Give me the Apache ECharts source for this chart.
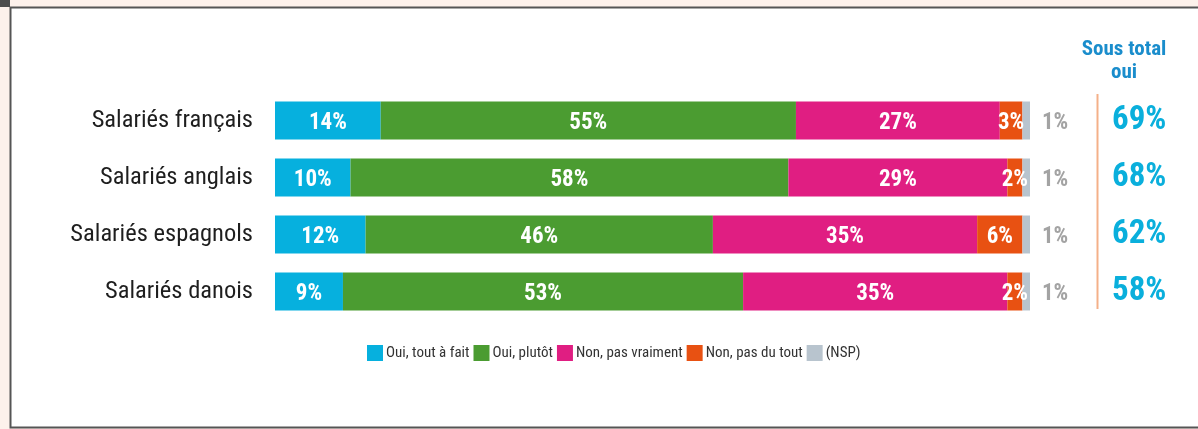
<!DOCTYPE html>
<html>
<head>
<meta charset="utf-8">
<script src="https://cdn.jsdelivr.net/npm/echarts@6/dist/echarts.min.js"></script>
<style>
html,body{margin:0;padding:0;background:#fdf1eb;}
#c{width:1198px;height:429px;}
</style>
</head>
<body>
<div id="c"></div>
<script>
const categories = ['Salariés français', 'Salariés anglais', 'Salariés espagnols', 'Salariés danois'];
const seriesNames = ['Oui, tout à fait', 'Oui, plutôt', 'Non, pas vraiment', 'Non, pas du tout', '(NSP)'];
const ouiToutAFait = [14, 10, 12, 9];
const ouiPlutot = [55, 58, 46, 53];
const nonPasVraiment = [27, 29, 35, 35];
const nonPasDuTout = [3, 2, 6, 2];
const nsp = [1, 1, 1, 1];
const sousTotalOui = [69, 68, 62, 58];
const colors = ['#06b0de', '#4b9c31', '#e01e82', '#e85112', '#b8c4ce'];

const cond = "'Liberation Sans Narrow', 'Roboto Condensed', 'Roboto', sans-serif";
const chart = echarts.init(document.getElementById('c'), null, {renderer: 'canvas'});

const valuesList = [ouiToutAFait, ouiPlutot, nonPasVraiment, nonPasDuTout, nsp];
const barSeries = valuesList.map((vals, i) => ({
  name: seriesNames[i],
  type: 'bar',
  stack: 'total',
  barWidth: 38,
  xAxisIndex: 0,
  yAxisIndex: 0,
  itemStyle: {color: colors[i]},
  label: i === 4 ? {
    show: true, position: 'right', distance: 12, offset: [0, 3],
    formatter: p => p.value + '%',
    color: '#a3a3a3', fontWeight: 'bold', fontSize: 23, fontFamily: cond
  } : {
    show: true, position: 'inside', offset: [0, 3],
    formatter: p => p.value + '%',
    color: '#ffffff', fontWeight: 'bold', fontSize: 23, fontFamily: cond
  },
  data: vals
}));

const option = {
  animation: false,
  backgroundColor: 'transparent',
  color: colors,
  graphic: [
    {type: 'rect', shape: {x: 0, y: 0, width: 10, height: 7}, style: {fill: '#4d4d4d'}},
    {type: 'rect', shape: {x: 10.5, y: 7.5, width: 1200, height: 420}, style: {fill: '#ffffff', stroke: '#555555', lineWidth: 2}, z: -10},
    {type: 'line', shape: {x1: 1097.5, y1: 94, x2: 1097.5, y2: 309}, style: {stroke: '#f4b089', lineWidth: 2}}
  ],
  title: {
    text: 'Sous total\noui',
    left: 1119, top: 33, textAlign: 'center',
    textStyle: {color: '#1a8dcc', fontSize: 21, fontWeight: 'bold', fontFamily: cond, lineHeight: 23}
  },
  legend: {
    data: seriesNames,
    left: 362, top: 340,
    itemWidth: 16, itemHeight: 16, itemGap: 4,
    icon: 'rect',
    textStyle: {color: '#333333', fontSize: 15, fontFamily: cond, padding: [0, 0, 0, -2]}
  },
  grid: [
    {left: 275, width: 755, top: 92, height: 228},
    {left: 1097, width: 80, top: 92, height: 228}
  ],
  xAxis: [
    {type: 'value', gridIndex: 0, min: 0, max: 100, show: false},
    {type: 'value', gridIndex: 1, min: 0, max: 100, show: false}
  ],
  yAxis: [
    {
      type: 'category', gridIndex: 0, inverse: true, data: categories,
      axisLine: {show: false}, axisTick: {show: false},
      axisLabel: {margin: 22, fontSize: 24.5, color: '#1e1e1e', fontFamily: cond, padding: [8, 0, 0, 0]}
    },
    {
      type: 'category', gridIndex: 1, inverse: true, data: categories,
      axisLine: {show: false}, axisTick: {show: false},
      axisLabel: {
        inside: true, margin: 15,
        formatter: (v, i) => sousTotalOui[i] + '%',
        fontSize: 33, fontWeight: 'bold', color: '#0aafdc', fontFamily: cond,
        padding: [4, 0, 0, 0]
      }
    }
  ],
  series: barSeries.concat([{
    name: 'Sous total oui',
    type: 'bar',
    xAxisIndex: 1, yAxisIndex: 1,
    silent: true,
    itemStyle: {opacity: 0},
    data: sousTotalOui
  }])
};
chart.setOption(option);
</script>
</body>
</html>
